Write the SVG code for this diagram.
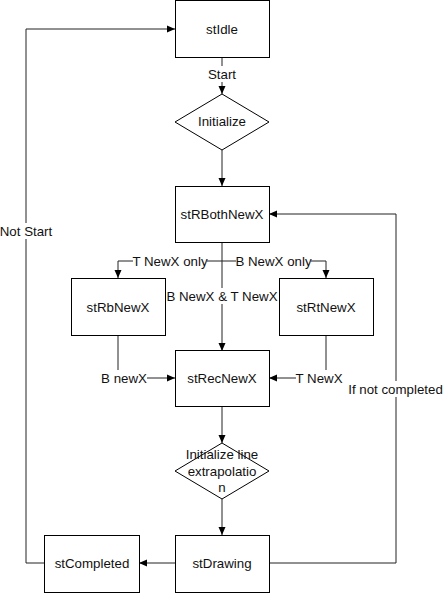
<svg xmlns="http://www.w3.org/2000/svg" width="444" height="593" viewBox="0 0 444 593">
<style>
.n{fill:#fff;stroke:#000;stroke-width:1}
.t{font-family:"Liberation Sans",Arial,sans-serif;font-size:13.3px;fill:#111;text-anchor:middle;dominant-baseline:central}
.c{fill:none;stroke:#222;stroke-width:1}
.lb{fill:#fff}
</style>
<defs>
<marker id="a" viewBox="0 0 8 8" refX="8" refY="4" markerWidth="8" markerHeight="8" markerUnits="userSpaceOnUse" orient="auto">
<path d="M0,0.5 L8,4 L0,7.5 Z" fill="#000"/>
</marker>
</defs>
<rect width="444" height="593" fill="#fff"/>
<g id="connectors">
<path class="c" d="M222,57 V94" marker-end="url(#a)"/>
<path class="c" d="M222,150 V186" marker-end="url(#a)"/>
<path class="c" d="M222,243 V351" marker-end="url(#a)"/>
<path class="c" d="M222,261 H118 V278" marker-end="url(#a)"/>
<path class="c" d="M222,261 H326 V278" marker-end="url(#a)"/>
<path class="c" d="M118,335 V378 H175" marker-end="url(#a)"/>
<path class="c" d="M326,335 V378 H269" marker-end="url(#a)"/>
<path class="c" d="M222,407 V443" marker-end="url(#a)"/>
<path class="c" d="M222,499 V535" marker-end="url(#a)"/>
<path class="c" d="M175,563 H139" marker-end="url(#a)"/>
<path class="c" d="M45,563 H26 V29 H175" marker-end="url(#a)"/>
<path class="c" d="M269,563 H396 V214 H269" marker-end="url(#a)"/>
<rect class="lb" x="205" y="66" width="34" height="16"/>
<text class="t" x="222" y="74">Start</text>
<rect class="lb" x="0" y="223" width="53" height="16"/>
<text class="t" x="26" y="231">Not Start</text>
<rect class="lb" x="133" y="253" width="74" height="16"/>
<text class="t" x="170" y="261">T NewX only</text>
<rect class="lb" x="236" y="253" width="75" height="16"/>
<text class="t" x="273.5" y="261">B NewX only</text>
<rect class="lb" x="166" y="288" width="112" height="16"/>
<text class="t" x="222" y="296">B NewX &amp; T NewX</text>
<rect class="lb" x="101" y="370" width="46" height="16"/>
<text class="t" x="124" y="378">B newX</text>
<rect class="lb" x="296" y="370" width="46" height="16"/>
<text class="t" x="319" y="378">T NewX</text>
<rect class="lb" x="348" y="381" width="95" height="16"/>
<text class="t" x="395.5" y="389">If not completed</text>
</g>
<g id="stIdle"><rect class="n" x="175.5" y="0.5" width="94" height="57"/><text class="t" x="222" y="29">stIdle</text></g>
<g id="initialize"><polygon class="n" points="222,94 269,122 222,150 175,122"/><text class="t" x="222" y="121">Initialize</text></g>
<g id="stRBothNewX"><rect class="n" x="175.5" y="186.5" width="94" height="56"/><text class="t" x="222" y="214">stRBothNewX</text></g>
<g id="stRbNewX"><rect class="n" x="71.5" y="278.5" width="94" height="57"/><text class="t" x="118" y="307">stRbNewX</text></g>
<g id="stRtNewX"><rect class="n" x="279.5" y="278.5" width="94" height="57"/><text class="t" x="326" y="307">stRtNewX</text></g>
<g id="stRecNewX"><rect class="n" x="175.5" y="350.5" width="94" height="56"/><text class="t" x="222" y="378">stRecNewX</text></g>
<g id="initLine"><polygon class="n" points="222,443 269,471 222,499 175,471"/><text class="t" x="222" y="454.5">Initialize line</text><text class="t" x="222" y="471">extrapolatio</text><text class="t" x="222" y="487.5">n</text></g>
<g id="stDrawing"><rect class="n" x="175.5" y="535.5" width="94" height="57"/><text class="t" x="222" y="563">stDrawing</text></g>
<g id="stCompleted"><rect class="n" x="44.5" y="535.5" width="95" height="57"/><text class="t" x="92" y="563">stCompleted</text></g>
</svg>
